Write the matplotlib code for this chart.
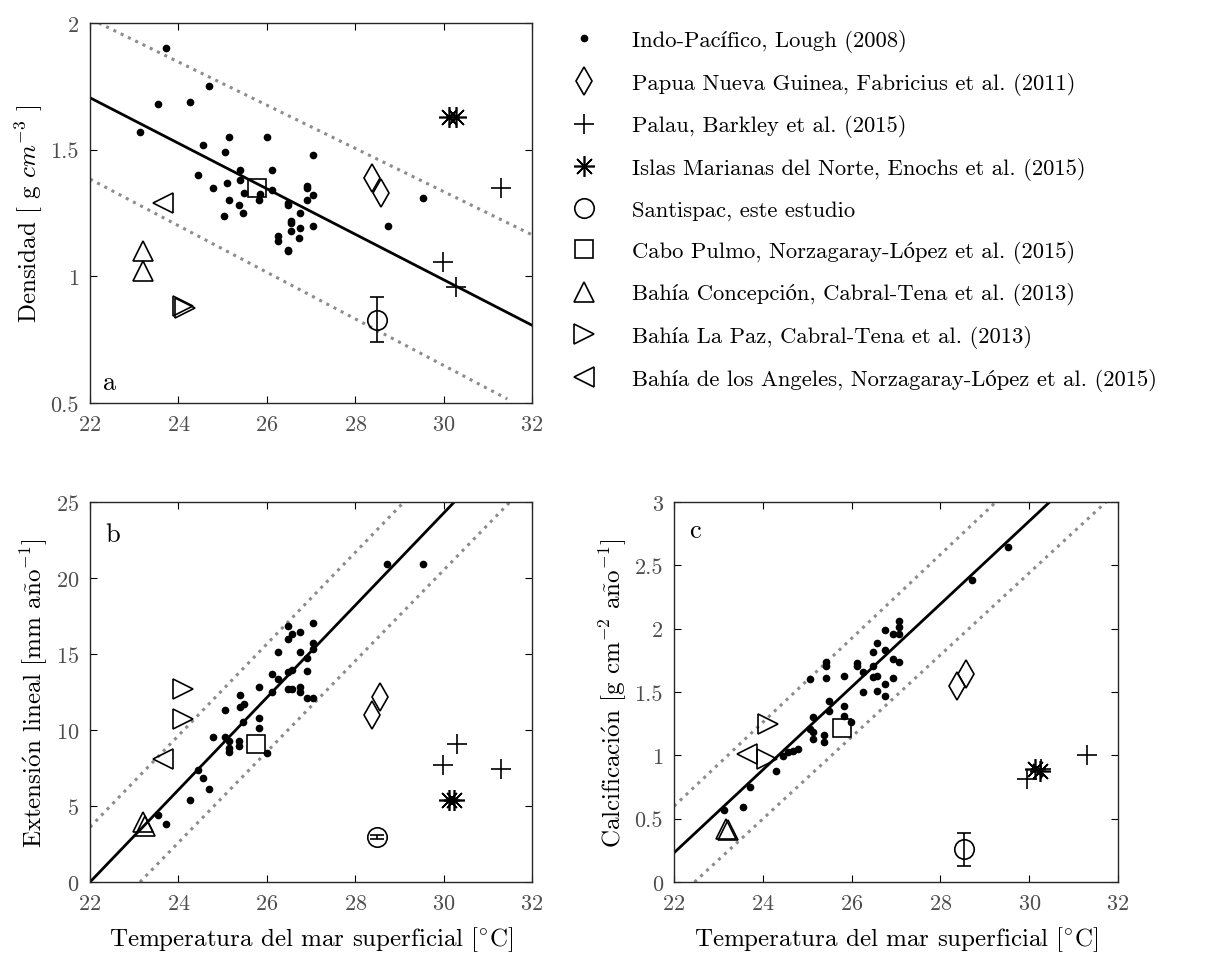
#!/usr/bin/env python3
"""
Coral density, extension and calcification against SST
"""
import numpy as np
import matplotlib
matplotlib.use('Agg')
import matplotlib.pyplot as plt

plt.rcParams['font.family'] = ['cmr10', 'STIXGeneral']
plt.rcParams['mathtext.fontset'] = 'cm'
plt.rcParams['axes.formatter.use_mathtext'] = True
plt.rcParams['axes.unicode_minus'] = False

# labels
lbl_indo = 'Indo-Pacífico, Lough (2008)'
lbl_png = 'Papua Nueva Guinea, Fabricius et al. (2011)'
lbl_palau = 'Palau, Barkley et al. (2015)'
lbl_mar = 'Islas Marianas del Norte, Enochs et al. (2015)'
lbl_san = 'Santispac, este estudio'
lbl_cabo = 'Cabo Pulmo, Norzagaray-López et al. (2015)'
lbl_conc = 'Bahía Concepción, Cabral-Tena et al. (2013)'
lbl_paz = 'Bahía La Paz, Cabral-Tena et al. (2013)'
lbl_ang = 'Bahía de los Angeles, Norzagaray-López et al. (2015)'

# panel a: density
a_indo_x = [23.72, 24.69, 23.54, 24.27, 23.13, 24.56, 25.06, 25.15, 26.0, 24.44,
            24.79, 25.11, 25.40, 25.40, 25.48, 25.15, 25.38, 25.47, 25.03, 25.82,
            25.84, 26.11, 26.11, 26.48, 26.48, 26.74, 26.55, 26.55, 26.55, 26.74,
            26.25, 26.25, 26.48, 26.48, 26.72, 26.90, 26.90, 26.90, 27.05, 27.05,
            27.05, 29.54, 28.73]
a_indo_y = [1.90, 1.75, 1.68, 1.69, 1.57, 1.52, 1.49, 1.55, 1.55, 1.40,
            1.35, 1.37, 1.42, 1.38, 1.33, 1.30, 1.28, 1.25, 1.24, 1.30,
            1.325, 1.42, 1.34, 1.29, 1.28, 1.25, 1.22, 1.21, 1.18, 1.19,
            1.16, 1.14, 1.105, 1.10, 1.15, 1.30, 1.355, 1.35, 1.32, 1.20,
            1.48, 1.31, 1.20]
a_png = ([28.38, 28.58], [1.39, 1.33])
a_palau = ([31.30, 29.98, 30.27], [1.35, 1.056, 0.958])
a_mar = ([30.13, 30.28], [1.63, 1.63])
a_san = ([28.49], [0.829], [0.09])
a_cabo = ([25.77], [1.35])
a_conc = ([23.19, 23.19], [1.10, 1.02])
a_paz = ([24.10, 24.14], [0.884, 0.875])
a_ang = ([23.65], [1.29])
a_fit = ([22.0, 32.0], [1.705, 0.807])
a_up = ([22.2, 32.0], [2.0, 1.164])
a_lo = ([22.0, 31.44], [1.384, 0.516])

# panel b: linear extension
b_indo_x = [28.72, 29.54, 26.48, 27.05, 26.74, 26.56, 26.48, 27.05, 26.74, 26.26,
            27.05, 26.90, 26.11, 26.26, 26.56, 26.48, 26.90, 26.48, 26.56, 26.74,
            26.74, 26.90, 27.05, 26.11, 25.82, 25.40, 25.40, 25.48, 25.06, 25.47,
            25.82, 25.82, 24.79, 25.06, 25.15, 25.38, 25.15, 25.15, 25.38, 26.0,
            24.44, 24.56, 24.69, 24.27, 23.54, 23.72]
b_indo_y = [20.93, 20.93, 16.83, 17.05, 16.47, 16.31, 15.96, 15.72, 15.11, 15.11,
            15.30, 14.75, 13.68, 13.35, 13.94, 13.79, 13.90, 12.72, 12.72, 12.81,
            12.48, 12.08, 12.08, 12.48, 12.81, 12.30, 11.49, 11.71, 11.34, 10.51,
            10.77, 10.11, 9.52, 9.52, 9.30, 9.30, 8.80, 8.54, 8.98, 8.47,
            7.38, 6.85, 6.13, 5.41, 4.44, 3.83]
b_png = ([28.37, 28.57], [10.99, 12.19])
b_palau = ([29.98, 30.31, 31.30], [7.73, 9.08, 7.44])
b_mar = ([30.13, 30.24], [5.41, 5.41])
b_san = ([28.49], [2.96], [0.15])
b_cabo = ([25.76], [9.08])
b_conc = ([23.19, 23.25], [3.94, 3.68])
b_paz = ([24.10, 24.10], [12.70, 10.73])
b_ang = ([23.65], [8.10])
b_fit = ([22.0, 30.24], [0.0, 25.0])
b_up = ([22.0, 29.10], [3.61, 25.0])
b_lo = ([23.13, 31.50], [0.0, 25.0])

# panel c: calcification
c_indo_x = [29.52, 28.71, 27.06, 27.06, 27.06, 26.93, 26.75, 26.57, 26.75, 26.48,
            27.06, 26.93, 26.48, 26.11, 26.11, 26.26, 26.48, 26.57, 26.93, 26.75,
            26.57, 26.75, 26.26, 25.83, 25.43, 25.43, 25.43, 25.07, 25.48, 25.48,
            25.83, 25.83, 25.99, 25.14, 25.07, 25.14, 25.14, 25.38, 25.38, 24.79,
            24.68, 24.56, 24.45, 24.29, 23.71, 23.55, 23.12]
c_indo_y = [2.648, 2.385, 2.062, 2.01, 1.957, 1.957, 1.99, 1.886, 1.834, 1.813,
            1.734, 1.76, 1.708, 1.728, 1.708, 1.655, 1.616, 1.629, 1.608, 1.563,
            1.51, 1.471, 1.497, 1.629, 1.739, 1.708, 1.608, 1.602, 1.432, 1.353,
            1.392, 1.313, 1.261, 1.30, 1.208, 1.182, 1.13, 1.161, 1.103, 1.051,
            1.038, 1.025, 0.998, 0.88, 0.749, 0.591, 0.565]
c_png = ([28.38, 28.58], [1.55, 1.642])
c_palau = ([31.30, 29.96, 30.27], [1.003, 0.81, 0.89])
c_mar = ([30.14, 30.25], [0.893, 0.88])
c_san = ([28.52], [0.257], [0.13])
c_cabo = ([25.79], [1.214])
c_conc = ([23.16, 23.22], [0.42, 0.41])
c_paz = ([24.12, 24.09], [1.248, 0.972])
c_ang = ([23.65], [1.011])
c_fit = ([22.0, 30.46], [0.231, 3.0])
c_up = ([22.0, 29.25], [0.599, 3.0])
c_lo = ([22.46, 31.73], [0.0, 3.0])

xticks = [22, 24, 26, 28, 30, 32]
xlab = 'Temperatura del mar superficial [$^{\\circ}$C]'

asterisk = (8, 2, 0)
mew = 1.2


def panel(ax, indo, png, palau, mar, san, cabo, conc, paz, ang, fit, up, lo):
    ax.plot(up[0], up[1], ':', color='0.55', lw=2.2)
    ax.plot(lo[0], lo[1], ':', color='0.55', lw=2.2)
    ax.plot(fit[0], fit[1], '-', color='k', lw=2)
    ax.plot(indo[0], indo[1], 'o', color='k', ms=4.5, ls='none', label=lbl_indo)
    ax.plot(png[0], png[1], 'd', mfc='none', mec='k', mew=mew, ms=14, ls='none', label=lbl_png)
    ax.plot(palau[0], palau[1], '+', mec='k', mew=mew, ms=15, ls='none', label=lbl_palau)
    ax.plot(mar[0], mar[1], marker=asterisk, mec='k', mew=mew, ms=15, ls='none', label=lbl_mar)
    ax.errorbar(san[0], san[1], yerr=san[2], fmt='none', ecolor='k', elinewidth=1.2,
                capsize=5, capthick=1.2)
    ax.plot(san[0], san[1], 'o', mfc='none', mec='k', mew=mew, ms=14, ls='none', label=lbl_san)
    ax.plot(cabo[0], cabo[1], 's', mfc='none', mec='k', mew=mew, ms=12.5, ls='none', label=lbl_cabo)
    ax.plot(conc[0], conc[1], '^', mfc='none', mec='k', mew=mew, ms=15, ls='none', label=lbl_conc)
    ax.plot(paz[0], paz[1], '>', mfc='none', mec='k', mew=mew, ms=14, ls='none', label=lbl_paz)
    ax.plot(ang[0], ang[1], '<', mfc='none', mec='k', mew=mew, ms=14, ls='none', label=lbl_ang)
    ax.set_xlim(22, 32)
    ax.set_xticks(xticks)
    ax.tick_params(direction='in', top=True, right=True, length=5, width=0.8,
                   labelsize=16, labelcolor='0.3', pad=8)
    for s in ax.spines.values():
        s.set_linewidth(1.0)
        s.set_color('0.15')


fig = plt.figure(figsize=(12.2, 9.54), dpi=100)
axa = fig.add_axes([0.0738, 0.5765, 0.3623, 0.3983])
axb = fig.add_axes([0.0738, 0.0744, 0.3623, 0.3983])
axc = fig.add_axes([0.5525, 0.0744, 0.3639, 0.3983])

panel(axa, (a_indo_x, a_indo_y), a_png, a_palau, a_mar, a_san, a_cabo, a_conc, a_paz, a_ang,
      a_fit, a_up, a_lo)
panel(axb, (b_indo_x, b_indo_y), b_png, b_palau, b_mar, b_san, b_cabo, b_conc, b_paz, b_ang,
      b_fit, b_up, b_lo)
panel(axc, (c_indo_x, c_indo_y), c_png, c_palau, c_mar, c_san, c_cabo, c_conc, c_paz, c_ang,
      c_fit, c_up, c_lo)

axa.set_ylim(0.5, 2)
axa.set_yticks([0.5, 1, 1.5, 2])
axa.set_yticklabels(['0.5', '1', '1.5', '2'])
axa.set_ylabel('Densidad [ g $cm^{-3}$ ]', fontsize=18)
axa.text(0.03, 0.055, 'a', transform=axa.transAxes, fontsize=19, va='center')

axb.set_ylim(0, 25)
axb.set_yticks([0, 5, 10, 15, 20, 25])
axb.set_ylabel('Extensi$\\acute{\\mathrm{o}}$n lineal [mm a$\\tilde{\\mathrm{n}}$o$^{-1}$]', fontsize=18)
axb.set_xlabel(xlab, fontsize=18, labelpad=8)
axb.text(0.035, 0.915, 'b', transform=axb.transAxes, fontsize=19, va='center')

axc.set_ylim(0, 3)
axc.set_yticks([0, 0.5, 1, 1.5, 2, 2.5, 3])
axc.set_yticklabels(['0', '0.5', '1', '1.5', '2', '2.5', '3'])
axc.set_ylabel('Calcificaci$\\acute{\\mathrm{o}}$n [g cm$^{-2}$ a$\\tilde{\\mathrm{n}}$o$^{-1}$]', fontsize=18)
axc.set_xlabel(xlab, fontsize=18, labelpad=8)
axc.text(0.035, 0.925, 'c', transform=axc.transAxes, fontsize=19, va='center')

# legend from panel a handles
h, l = axa.get_legend_handles_labels()
fig.legend(h, l, loc='upper left', bbox_to_anchor=(0.462, 0.978), frameon=False,
           fontsize=16.3, handlelength=1.0, handletextpad=1.6, labelspacing=0.87,
           borderaxespad=0)

fig.savefig('out.png', dpi=100)
